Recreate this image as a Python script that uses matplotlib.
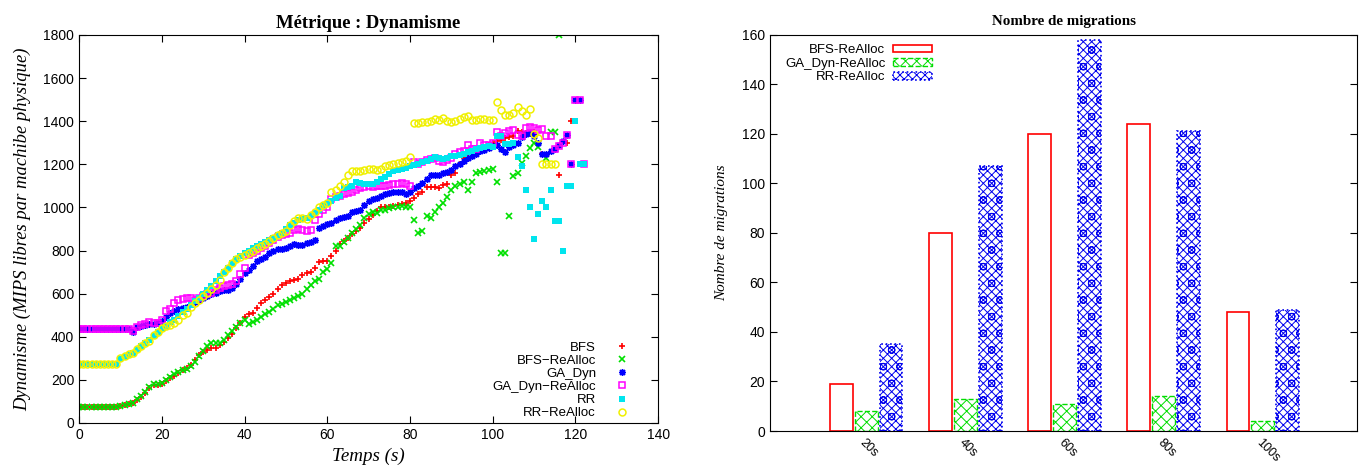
import matplotlib
matplotlib.use('Agg')
import matplotlib.pyplot as plt
import numpy as np

# ---- left chart data: dynamisme (MIPS libres / machine physique) vs temps (s)
t_main = list(range(0, 101))

bfs_main = [75] * 10 + [
    80, 85, 90, 95, 105, 120, 140, 160, 175, 178,
    182, 195, 210, 220, 232, 245, 255, 270, 290, 315,
    330, 340, 348, 350, 360, 375, 395, 415, 440, 465,
    490, 505, 512, 535, 555, 570, 585, 600, 620, 640,
    650, 660, 665, 670, 685, 695, 700, 720, 745, 750,
    750, 775, 800, 830, 845, 860, 875, 890, 905, 930,
    945, 965, 985, 1000, 1000, 1000, 1005, 1010, 1015, 1020,
    1030, 1045, 1060, 1070, 1095, 1095, 1095, 1090, 1105, 1110,
    1150, 1160, 1200, 1230, 1235, 1250, 1260, 1270, 1280, 1290,
    1300]
bfs_tail_t = [101, 102, 103, 104, 105, 106, 107, 108, 109, 110, 112, 113, 116, 118, 119]
bfs_tail_v = [1310, 1315, 1320, 1325, 1330, 1355, 1350, 1345, 1340, 1350, 1250, 1240, 1150, 1300, 1400]

bfsr_main = [75] * 10 + [
    78, 82, 88, 95, 110, 125, 145, 165, 180, 182,
    185, 200, 215, 225, 235, 245, 250, 265, 285, 310,
    335, 355, 372, 372, 370, 385, 410, 425, 445, 465,
    480, 460, 470, 480, 490, 505, 515, 530, 545, 550,
    560, 570, 580, 590, 600, 620, 640, 660, 670, 700,
    715, 740, 820, 820, 840, 860, 880, 900, 920, 950,
    970, 980, 975, 990, 990, 995, 1000, 1000, 1005, 1000,
    1000, 940, 880, 890, 960, 950, 980, 1000, 1020, 1050,
    1080, 1100, 1110, 1120, 1080, 1120, 1160, 1165, 1170, 1175,
    1180]
bfsr_tail_t = [101, 102, 103, 104, 105, 106, 107, 108, 109, 110, 111, 113, 114, 115, 116]
bfsr_tail_v = [1120, 790, 790, 960, 1145, 1160, 1205, 1240, 1275, 1300, 1280, 1230, 1350, 1350, 1800]

ga_main = [435] * 13 + [
    420, 445, 450, 455, 460, 460, 465,
    475, 490, 510, 520, 530, 535, 540, 550, 560, 570,
    580, 590, 600, 605, 610, 615, 615, 625, 645, 670,
    695, 710, 730, 750, 760, 770, 790, 800, 805, 805,
    810, 820, 830, 825, 825, 835, 840, 850, 905, 915,
    925, 930, 940, 950, 955, 960, 980, 985, 990, 1010,
    1030, 1040, 1045, 1055, 1060, 1065, 1070, 1070, 1070, 1060,
    1070, 1090, 1100, 1115, 1130, 1150, 1150, 1150, 1160, 1165,
    1175, 1190, 1200, 1215, 1230, 1240, 1250, 1260, 1265, 1275,
    1285]
ga_tail_t = list(range(101, 122))
ga_tail_v = [1290, 1270, 1255, 1280, 1290, 1300, 1325, 1340, 1345, 1330,
             1300, 1250, 1250, 1260, 1270, 1290, 1310, 1335, 1200, 1500, 1500]

gar_main = [435] * 13 + [
    425, 445, 455, 460, 470, 465, 465,
    480, 520, 530, 555, 570, 575, 580, 580, 570, 580,
    590, 600, 605, 615, 625, 635, 640, 645, 660, 690,
    720, 780, 790, 800, 810, 820, 835, 850, 865, 870,
    875, 880, 895, 900, 895, 890, 895, 940, 970, 990,
    1000, 1040, 1050, 1055, 1060, 1065, 1070, 1080, 1090, 1095,
    1100, 1095, 1100, 1100, 1100, 1105, 1110, 1110, 1115, 1110,
    1100, 1210, 1200, 1210, 1220, 1225, 1230, 1215, 1210, 1220,
    1230, 1250, 1255, 1260, 1290, 1270, 1270, 1300, 1290, 1290,
    1300]
gar_tail_t = list(range(101, 123))
gar_tail_v = [1350, 1330, 1345, 1355, 1360, 1335, 1330, 1370, 1375, 1370,
              1360, 1365, 1330, 1330, 1270, 1285, 1300, 1335, 1200, 1500, 1500, 1200]

rr_main = [275] * 10 + [
    295, 305, 315, 325, 340, 355, 370, 385, 405, 420,
    440, 450, 470, 480, 495, 515, 530, 545, 565, 580,
    600, 615, 635, 660, 680, 700, 720, 740, 760, 775,
    790, 800, 810, 820, 830, 840, 850, 860, 870, 880,
    900, 920, 930, 940, 945, 950, 960, 975, 990, 1005,
    1015, 1030, 1045, 1055, 1090, 1095, 1100, 1120, 1115, 1110,
    1110, 1110, 1120, 1130, 1140, 1155, 1170, 1175, 1180, 1185,
    1190, 1195, 1200, 1210, 1215, 1225, 1235, 1230, 1225, 1230,
    1240, 1240, 1245, 1250, 1255, 1260, 1270, 1275, 1280, 1285,
    1280]
rr_tail_t = list(range(101, 123))
rr_tail_v = [1330, 1330, 1295, 1295, 1300, 1235, 1190, 1080, 1000, 855,
             970, 1030, 1000, 1080, 935, 935, 800, 1100, 1100, 1400, 1200, 1200]

rrr_main = [275] * 10 + [
    300, 310, 320, 325, 345, 355, 370, 380, 410, 420,
    440, 450, 455, 465, 480, 500, 510, 540, 555, 570,
    590, 605, 620, 640, 665, 700, 720, 740, 760, 770,
    780, 790, 800, 810, 820, 830, 845, 860, 870, 880,
    890, 920, 935, 950, 950, 945, 965, 980, 1000, 1010,
    1020, 1070, 1080, 1100, 1120, 1150, 1170, 1170, 1170, 1175,
    1180, 1180, 1175, 1180, 1190, 1195, 1200, 1205, 1210, 1215,
    1235, 1390, 1390, 1395, 1395, 1400, 1410, 1405, 1415, 1400,
    1395, 1400, 1410, 1420, 1425, 1405, 1405, 1410, 1410, 1405,
    1405]
rrr_tail_t = list(range(101, 116))
rrr_tail_v = [1490, 1450, 1430, 1430, 1440, 1465, 1445, 1430, 1455, 1340,
              1320, 1200, 1200, 1200, 1200]

# ---- right chart data: nombre de migrations
periods = ['20s', '40s', '60s', '80s', '100s']
mig_bfs = [19, 80, 120, 124, 48]
mig_ga = [8, 13, 11, 14, 4]
mig_rr = [35, 107, 158, 121, 49]

plt.rcParams['font.family'] = ['Liberation Sans', 'DejaVu Sans']
plt.rcParams['hatch.linewidth'] = 0.7
serif = ['Liberation Serif', 'DejaVu Serif']

fig = plt.figure(figsize=(13.64, 4.66), dpi=100)
ax1 = fig.add_axes([0.058, 0.0923, 0.4245, 0.8327])
ax2 = fig.add_axes([0.5645, 0.0751, 0.4304, 0.8499])

ms = 5
series = [
    ('BFS', bfs_main, bfs_tail_t, bfs_tail_v, dict(marker='+', color='#ff0000', mew=1.2)),
    ('BFS\u2212ReAlloc', bfsr_main, bfsr_tail_t, bfsr_tail_v, dict(marker='x', color='#00e000', mew=1.2)),
    ('GA_Dyn', ga_main, ga_tail_t, ga_tail_v, dict(marker=(8, 2, 0), color='#0000ff', mew=1.0)),
    ('GA_Dyn\u2212ReAlloc', gar_main, gar_tail_t, gar_tail_v,
     dict(marker='s', color='#ff00ff', mfc='none', mew=1.1)),
    ('RR', rr_main, rr_tail_t, rr_tail_v, dict(marker='s', color='#00e5ee', mew=0)),
    ('RR\u2212ReAlloc', rrr_main, rrr_tail_t, rrr_tail_v,
     dict(marker='o', color='#f0f000', mfc='none', mew=1.1)),
]
for name, vmain, tt, tv, st in series:
    ax1.plot(t_main + tt, vmain + tv, linestyle='none', markersize=ms, label=name, **st)

ax1.set_xlim(0, 140)
ax1.set_ylim(0, 1800)
ax1.set_xticks(range(0, 141, 20))
ax1.set_yticks(range(0, 1801, 200))
ax1.tick_params(direction='in', top=True, right=True, labelsize=10, length=5)
ax1.set_title('Métrique : Dynamisme', family=serif, fontweight='bold', fontsize=13.4, pad=5)
ax1.set_xlabel('Temps (s)', family=serif, style='italic', fontsize=13.7, labelpad=4)
ax1.set_ylabel('Dynamisme (MIPS libres par machibe physique)', family=serif,
               style='italic', fontsize=13.4, labelpad=9)
ax1.legend(loc='lower right', markerfirst=False, frameon=False, fontsize=9.5,
           labelspacing=0.07, handlelength=1.0, handletextpad=1.5,
           borderaxespad=0.4, bbox_to_anchor=(0.968, -0.018))

# ---- bars
x = np.arange(len(periods))
w = 0.23
off = 0.25
ax2.bar(x - off, mig_bfs, w, facecolor='white', edgecolor='#ff0000', linewidth=1.2,
        label='BFS-ReAlloc')
ax2.bar(x, mig_ga, w, facecolor='white', edgecolor='#00dd00', hatch='xxx', linestyle='--',
        linewidth=1.0, label='GA_Dyn-ReAlloc')
ax2.bar(x + off, mig_rr, w, facecolor='white', edgecolor='#0000ee', hatch='xxxxo', linestyle=':',
        linewidth=1.2, label='RR-ReAlloc')
ax2.set_xlim(-0.97, 4.95)
ax2.set_ylim(0, 160)
ax2.set_yticks(range(0, 161, 20))
ax2.set_xticks(x)
ax2.set_xticklabels(periods, rotation=-45, ha='left', va='top', rotation_mode='anchor')
ax2.tick_params(axis='y', direction='in', right=True, labelsize=10, length=5)
ax2.tick_params(axis='x', length=0, labelsize=9, pad=4)
ax2.set_title('Nombre de migrations', family=serif, fontweight='bold', fontsize=10.8, pad=7)
ax2.set_ylabel('Nombre de migrations', family=serif, style='italic', fontsize=11, labelpad=10)
ax2.legend(loc='upper left', markerfirst=False, frameon=False, fontsize=9.5,
           labelspacing=0.12, handlelength=2.95, handleheight=0.55, handletextpad=0.55,
           borderaxespad=0.3, bbox_to_anchor=(0.01, 1.0))

fig.savefig('out.png', dpi=100)
